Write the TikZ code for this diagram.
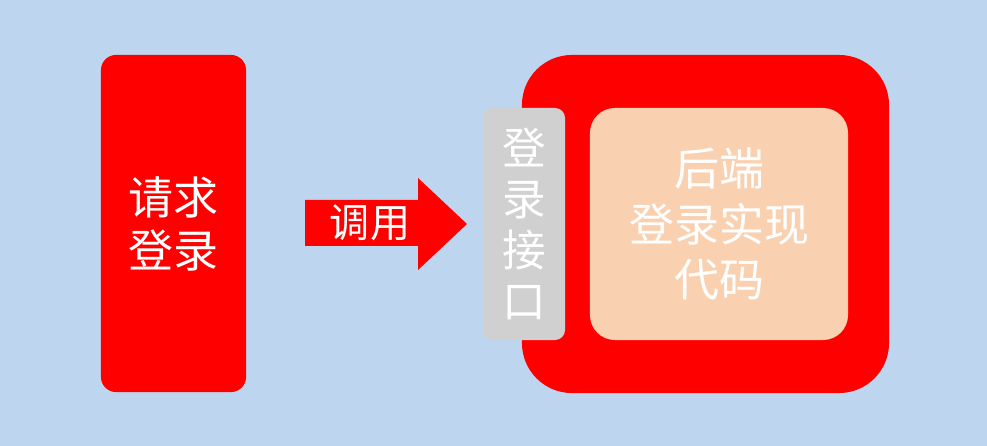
\documentclass[tikz,border=0pt]{standalone}
\usepackage{fontspec}
\newfontfamily\cjk{Noto Sans CJK SC}
\usetikzlibrary{positioning}
\definecolor{bgblue}{RGB}{189,213,238}
\definecolor{boxred}{RGB}{255,0,0}
\definecolor{portgray}{RGB}{208,208,208}
\definecolor{peach}{RGB}{250,209,176}
\tikzstyle{block} = [rectangle, draw=none, inner sep=0pt]
\tikzstyle{label} = [text=white, align=center, inner sep=0pt, font=\cjk\fontsize{32}{38}\selectfont]

\begin{document}
\begin{tikzpicture}[x=0.025cm, y=-0.025cm]
        \fill[bgblue] (0,0) rectangle (987,446);
        \useasboundingbox (0,0) rectangle (987,446);

        \node[block, fill=boxred, rounded corners=0.375cm, minimum width=3.625cm, minimum height=8.425cm] (client) at (173.5,223.5) {};
        \node[label, font=\cjk\fontsize{32}{37.7}\selectfont] (clienttxt) at (client.center) {请求\\登录};

        \node[block, fill=boxred, rounded corners=1.25cm, minimum width=9.175cm, minimum height=8.45cm] (backend) at (705.5,224) {};
        \node[block, fill=portgray, rounded corners=0.25cm, minimum width=2.05cm, minimum height=5.8cm] (port) at (524,224) {};
        \node[label, font=\cjk\fontsize{31}{36.3}\selectfont] (porttxt) at (port.center) {登\\录\\接\\口};
        \node[block, fill=peach, rounded corners=0.625cm, minimum width=6.45cm, minimum height=5.8cm] (impl) at (719,224) {};
        \node[label, font=\cjk\fontsize{32}{39.8}\selectfont] (impltxt) at (impl.center) {后端\\登录实现\\代码};

        % call arrow
        \fill[boxred] (305,200) -- (418,200) -- (418,178) -- (467,224) -- (418,270) -- (418,246) -- (305,246) -- cycle;
        \node[label, font=\cjk\fontsize{28.5}{34}\selectfont] (call) at (370,223) {调用};

    \end{tikzpicture}
\end{document}
